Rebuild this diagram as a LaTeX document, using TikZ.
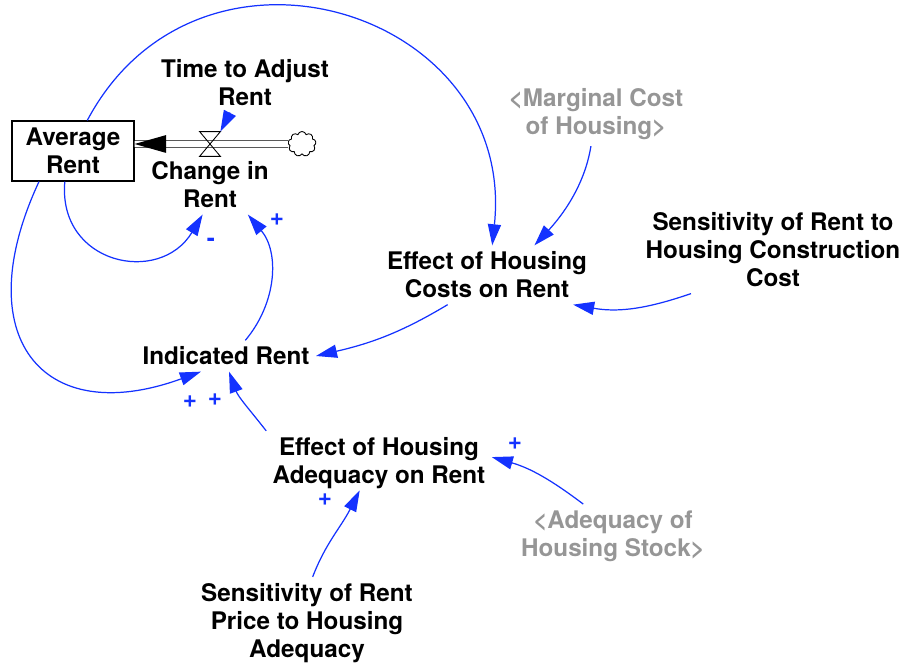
\documentclass[tikz,border=0pt]{standalone}
\usepackage{fontspec}
\setmainfont{TeX Gyre Heros}
\usetikzlibrary{arrows.meta,shapes.symbols}
\definecolor{linkblue}{RGB}{20,50,255}
\definecolor{ghostgray}{RGB}{150,150,150}

\begin{document}
\begin{tikzpicture}[x=0.02cm,y=-0.02cm,
  every path/.style={>={Triangle[length=12pt,width=7.5pt]}},
  every node/.style={font=\bfseries\fontsize{13.8}{15.9}\selectfont,align=center,inner sep=3.5pt},
  stock/.style={draw,rectangle,minimum width=2.44cm,minimum height=1.2cm,line width=0.7pt},
  ghost/.style={text=ghostgray},
  sign/.style={text=linkblue,inner sep=0pt},
  link/.style={->,color=linkblue,line width=0.7pt},
  pipe/.style={double,double distance=3.2pt,line width=0.5pt},
  valve/.style={minimum width=0.4cm,minimum height=0.48cm,inner sep=0pt},
  source/.style={cloud,draw,cloud puffs=9,minimum width=0.56cm,minimum height=0.5cm,inner sep=0pt,line width=0.5pt}]
\useasboundingbox (0,0) rectangle (905,668);
\node[stock]       (avg) at (73,151)  {Average\\Rent};
\node              (tar) at (245,83)  {Time to Adjust\\Rent};
\node              (cir) at (210,185) {Change in\\Rent};
\node[valve]       (vlv) at (210,144) {};
\node[source]      (cld) at (302,144) {};
\node[ghost]       (mch) at (596,114) {<Marginal Cost\\of Housing>};
\node              (ehc) at (487,275) {Effect of Housing\\Costs on Rent};
\node              (src) at (773,250) {Sensitivity of Rent to\\Housing Construction\\Cost};
\node              (ind) at (226,356) {Indicated Rent};
\node              (eha) at (379,463) {Effect of Housing\\Adequacy on Rent};
\node[ghost]       (ahs) at (613,536) {<Adequacy of\\Housing Stock>};
\node              (srp) at (307,623) {Sensitivity of Rent\\Price to Housing\\Adequacy};
\node[sign]        (s1)  at (277,220) {+};
\node[sign]        (s2)  at (211,242) {-};
\node[sign]        (s3)  at (190,402) {+};
\node[sign]        (s4)  at (215,400) {+};
\node[sign]        (s5)  at (515,444) {+};
\node[sign]        (s6)  at (325,500) {+};
% flow into the stock
\draw[pipe] (cld.west) -- (avg.east |- cld);
\fill (avg.east |- cld) -- ++(18pt,5.1pt) -- ++(0,-10.2pt) -- cycle;
\draw[line width=0.5pt] (vlv.north west) -- (vlv.north east) -- (vlv.south west) -- (vlv.south east) -- cycle;
% causal links
\draw[link]                                  (tar)             -- (vlv.north east);
\draw[link, out=62,  in=84,  looseness=1.43] (avg.65)          to (ehc.80);
\draw[link, out=261, in=47,  looseness=0.9]  (mch.261)         to (ehc.32);
\draw[link, out=199, in=-10]                 (src.208)         to (ehc.-19);
\draw[link, out=211, in=13]                  (ehc.217)         to (ind.east);
\draw[link, out=50,  in=-50]                 (ind.39)          to (cir.-38);
\draw[link, out=265, in=239, looseness=1.5]  (avg.255)         to (cir.256);
\draw[link, out=245, in=200, looseness=1.74] (avg.222)         to (ind.212);
\draw[link, out=128, in=-70]                 (eha.north west)  to (ind.-79);
\draw[link, out=143, in=-16]                 (ahs.133)         to (eha.3);
\draw[link, out=69,  in=243, shorten >=-3pt] (srp.83)          to (eha.236);
\end{tikzpicture}
\end{document}
